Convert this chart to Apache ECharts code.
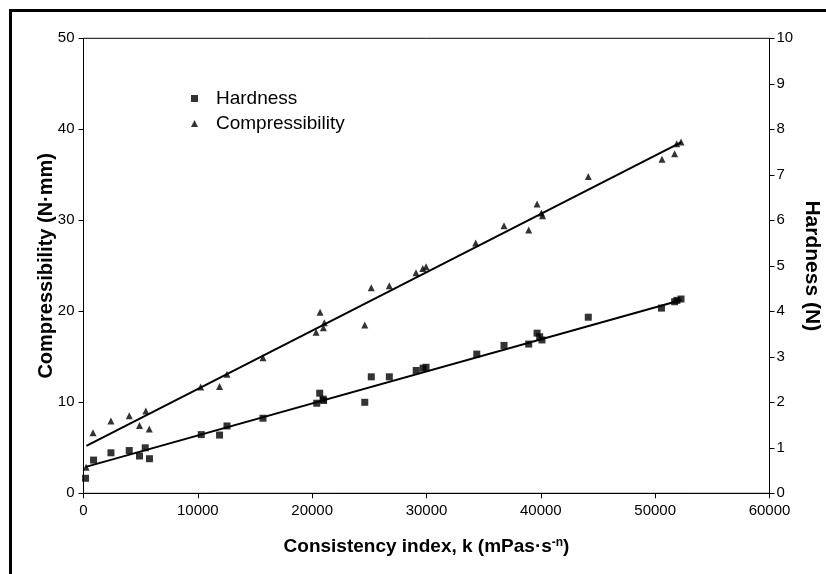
<!DOCTYPE html>
<html>
<head>
<meta charset="utf-8">
<script src="https://cdn.jsdelivr.net/npm/echarts@6/dist/echarts.min.js"></script>
<style>
  html, body { margin: 0; padding: 0; background: #fff; }
  .chart { width: 826px; height: 574px; overflow: hidden; }
</style>
</head>
<body>
<div class="chart" id="main"></div>
<script>
// x values: consistency index k (mPas·s^-n)
const hardX = [180, 880, 2400, 4000, 4900, 5400, 5770, 10300, 11900, 12550, 15700, 20400, 20660, 21000, 20950, 24600, 25170, 26750, 29100, 29700, 29960, 34400, 36780, 38940, 39670, 39900, 40100, 44150, 50550, 51700, 51900, 52260]
const hardY = [0.33, 0.73, 0.89, 0.94, 0.82, 1.0, 0.76, 1.29, 1.28, 1.48, 1.65, 1.98, 2.2, 2.04, 2.07, 2.0, 2.56, 2.56, 2.7, 2.75, 2.77, 3.06, 3.25, 3.28, 3.52, 3.44, 3.37, 3.87, 4.07, 4.21, 4.24, 4.27]
const compX = [230, 830, 2400, 4000, 4900, 5450, 5750, 10250, 11900, 12550, 15700, 20340, 20690, 20980, 21060, 24600, 25170, 26750, 29080, 29670, 29960, 34300, 36780, 38940, 39670, 40050, 40150, 44150, 50600, 51700, 51880, 52260]
const compY = [2.87, 6.65, 7.94, 8.53, 7.46, 9.04, 7.06, 11.69, 11.73, 13.09, 14.89, 17.7, 19.9, 18.2, 18.75, 18.5, 22.6, 22.8, 24.24, 24.7, 24.9, 27.5, 29.4, 28.93, 31.8, 30.8, 30.5, 34.8, 36.7, 37.3, 38.4, 38.6]
// fitted lines (end points)
const hardFitX = [200, 52300]
const hardFitY = [0.58, 4.25]
const compFitX = [250, 52300]
const compFitY = [5.2, 38.6]

const xTicks = { min: 0, max: 60000, interval: 10000 }
const leftTicks = { min: 0, max: 50, interval: 10 }
const rightTicks = { min: 0, max: 10, interval: 1 }

const font = 'Liberation Sans, Arial, sans-serif'
const pair = (xs, ys) => xs.map((x, i) => [x, ys[i]])

const chartInstance = echarts.init(document.getElementById('main'))

const axisCommon = {
  axisLine: { show: true, onZero: false, lineStyle: { color: '#000', width: 1 } },
  axisTick: { show: true, inside: false, length: 5, lineStyle: { color: '#000' } },
  splitLine: { show: false },
  nameMoveOverlap: false,
  nameTextStyle: { color: '#000', fontSize: 20, fontWeight: 'bold', fontFamily: font }
}

const initOption = {
  animation: false,
  backgroundColor: '#fff',
  grid: {
    left: 83.5, right: 56.5, top: 38.3, bottom: 80.7,
    outerBoundsMode: 'none',
    show: true, borderColor: '#000', borderWidth: 1
  },
  legend: {
    orient: 'vertical',
    left: 186, top: 84,
    itemWidth: 7, itemHeight: 7,
    itemGap: 6,
    data: [
      { name: 'Hardness', icon: 'rect' },
      { name: 'Compressibility', icon: 'triangle' }
    ],
    textStyle: { color: '#000', fontSize: 19, fontFamily: font, padding: [0, 0, 0, 13] }
  },
  xAxis: Object.assign({}, axisCommon, {
    type: 'value',
    min: xTicks.min, max: xTicks.max, interval: xTicks.interval,
    name: 'Consistency index, k (mPas·s{sup|-n})',
    nameLocation: 'middle',
    nameGap: 43,
    axisLabel: { color: '#000', fontSize: 15, fontFamily: font, margin: 10, formatter: v => String(v) },
    nameTextStyle: {
      color: '#000', fontSize: 19, fontWeight: 'bold', fontFamily: font,
      rich: { sup: { fontSize: 12, fontWeight: 'bold', verticalAlign: 'top', padding: [0, 0, 9, 0], fontFamily: font, color: '#000' } }
    }
  }),
  yAxis: [
    Object.assign({}, axisCommon, {
      type: 'value', position: 'left',
      min: leftTicks.min, max: leftTicks.max, interval: leftTicks.interval,
      name: 'Compressibility (N·mm)',
      nameLocation: 'middle', nameGap: 27, nameRotate: 90,
      axisLabel: { color: '#000', fontSize: 15, fontFamily: font, margin: 9 }
    }),
    Object.assign({}, axisCommon, {
      type: 'value', position: 'right',
      min: rightTicks.min, max: rightTicks.max, interval: rightTicks.interval,
      name: 'Hardness (N)',
      nameLocation: 'middle', nameGap: 32, nameRotate: -90,
      axisLabel: { color: '#000', fontSize: 15, fontFamily: font, margin: 7 },
      nameTextStyle: { color: '#000', fontSize: 21, fontWeight: 'bold', fontFamily: font }
    })
  ],
  series: [
    {
      name: 'Hardness', type: 'scatter', yAxisIndex: 1,
      symbol: 'rect', symbolSize: 7,
      itemStyle: { color: '#000' },
      data: pair(hardX, hardY)
    },
    {
      name: 'Compressibility', type: 'scatter', yAxisIndex: 0,
      symbol: 'triangle', symbolSize: 7,
      itemStyle: { color: '#000' },
      data: pair(compX, compY)
    },
    {
      name: 'hardFit', type: 'line', yAxisIndex: 1, silent: true,
      showSymbol: false, symbol: 'none',
      lineStyle: { color: '#000', width: 2 },
      data: pair(hardFitX, hardFitY)
    },
    {
      name: 'compFit', type: 'line', yAxisIndex: 0, silent: true,
      showSymbol: false, symbol: 'none',
      lineStyle: { color: '#000', width: 2 },
      data: pair(compFitX, compFitY)
    }
  ],
  // frame round the whole figure
  graphic: [
    {
      type: 'rect', left: 8, top: 8, silent: true,
      shape: { width: 830, height: 580 },
      style: { fill: 'none', stroke: '#000', lineWidth: 3 }
    }
  ]
}

chartInstance.setOption(initOption)
</script>
</body>
</html>
